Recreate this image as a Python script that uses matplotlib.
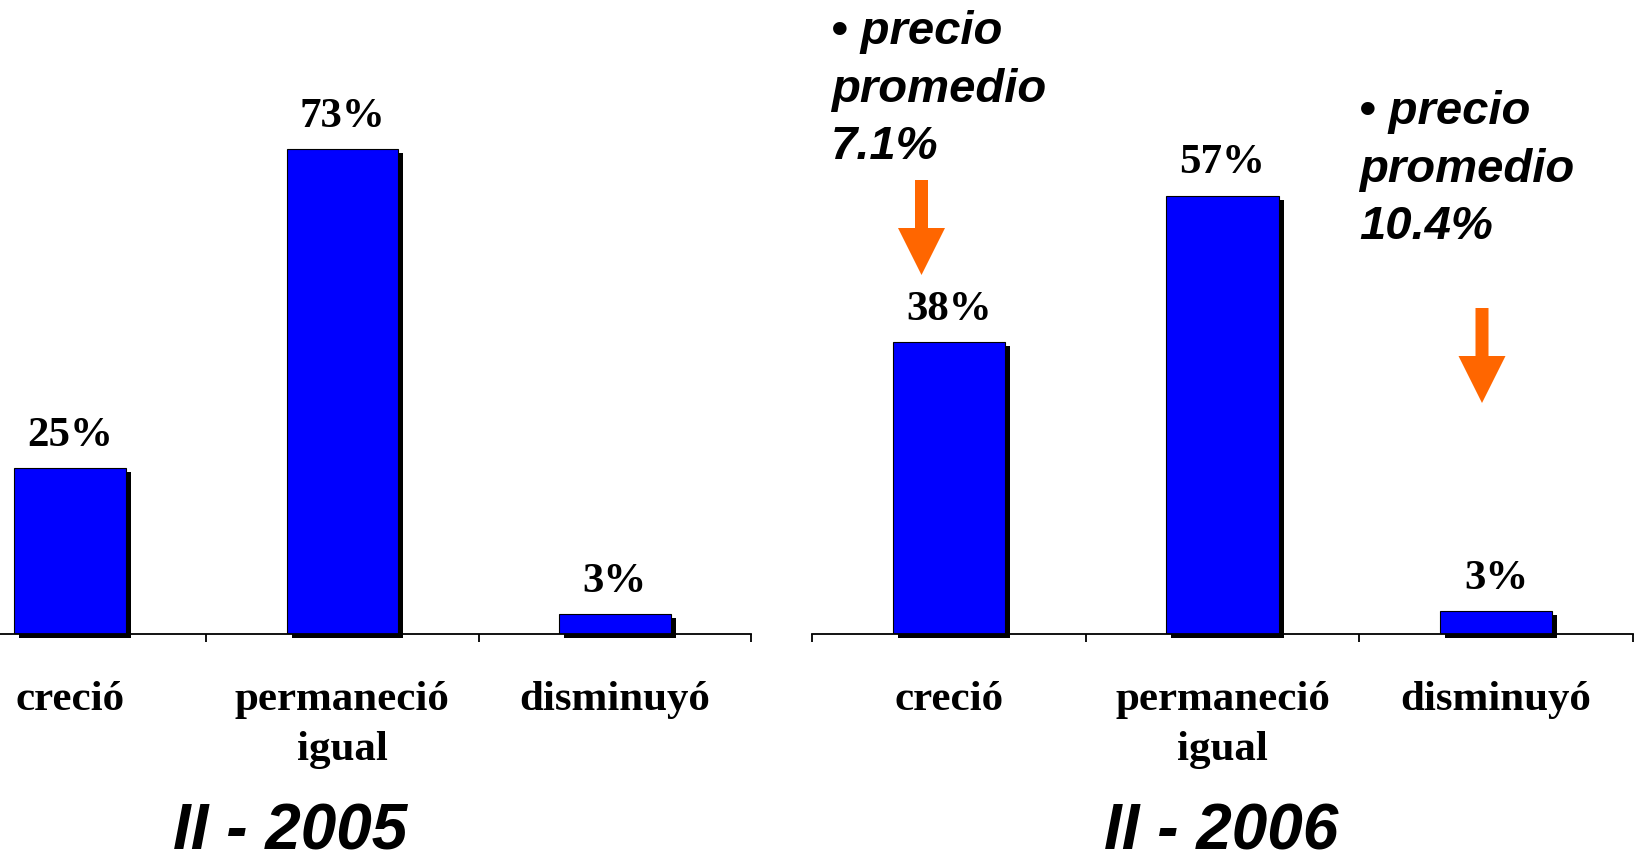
import matplotlib
matplotlib.use("Agg")
import matplotlib.pyplot as plt
from matplotlib import transforms
from matplotlib.patches import FancyArrow

# datos
categorias = ["creció", "permaneció\nigual", "disminuyó"]
valores_2005 = [25, 73, 3]
valores_2006 = [38, 57, 3]
periodos = ["II - 2005", "II - 2006"]
notas = ["• precio\npromedio\n7.1%", "• precio\npromedio\n10.4%"]

W, H = 1643, 863
fig = plt.figure(figsize=(W / 100, H / 100), dpi=100)

serif = "Liberation Serif"
sans = "Liberation Sans"
azul = "#0000FF"
naranja = "#FF6600"


def panel(ax, valores, xlim, ylim, bordes):
    x = range(len(valores))
    # sombra negra desplazada
    sombra = transforms.offset_copy(ax.transData, fig=fig, x=5, y=-4, units="dots")
    ax.bar(x, valores, width=0.41, color="black", transform=sombra, zorder=1, clip_on=False)
    ax.bar(x, valores, width=0.41, color=azul, edgecolor="black", linewidth=0.8, zorder=2)
    for xi, v in zip(x, valores):
        ax.annotate(f"{v}%", (xi, v), xytext=(0, 16), textcoords="offset points",
                    ha="center", va="baseline", fontsize=31, fontweight="bold",
                    family=serif, zorder=3)
    ax.set_xlim(*xlim)
    ax.set_ylim(*ylim)
    ax.set_xticks(bordes)
    ax.set_xticklabels([])
    ax.tick_params(axis="x", which="major", direction="out", length=6, width=1.3, color="black")
    ax.set_xticks(list(x), minor=True)
    ax.set_xticklabels(categorias, minor=True, fontsize=31, fontweight="bold",
                       family=serif, linespacing=1.42)
    ax.tick_params(axis="x", which="minor", length=0, pad=34)
    ax.set_yticks([])
    for s in ["top", "right", "left"]:
        ax.spines[s].set_visible(False)
    ax.spines["bottom"].set_linewidth(1.3)
    ax.patch.set_alpha(0)


base = 634
ax1 = fig.add_axes([0, (H - base) / H, 751 / W, base / H])
panel(ax1, valores_2005, (-0.257, 2.5), (0, base / 6.64), [0.5, 1.5, 2.5])

ax2 = fig.add_axes([812 / W, (H - base) / H, (1633 - 812) / W, base / H])
panel(ax2, valores_2006, (-0.5, 2.5), (0, base / 7.69), [-0.5, 0.5, 1.5, 2.5])

# capa para textos y flechas en pixeles
ov = fig.add_axes([0, 0, 1, 1])
ov.set_xlim(0, W)
ov.set_ylim(H, 0)
ov.axis("off")
ov.patch.set_alpha(0)

for txt, xc in zip(periodos, [290, 1221]):
    ov.text(xc, H - 1, txt, ha="center", va="bottom", fontsize=46,
            fontweight="bold", fontstyle="italic", family=sans)

for txt, (xn, yn) in zip(notas, [(831, 10), (1359, 90)]):
    ov.text(xn, yn, txt, ha="left", va="top", fontsize=34, fontweight="bold",
            fontstyle="italic", family=sans, linespacing=1.4)

ov.add_patch(FancyArrow(921.5, 180, 0, 95, width=13, head_width=47, head_length=47,
                        length_includes_head=True, color=naranja, lw=0))
ov.add_patch(FancyArrow(1482, 308, 0, 95, width=13, head_width=47, head_length=47,
                        length_includes_head=True, color=naranja, lw=0))

fig.savefig("out.png", dpi=100)
